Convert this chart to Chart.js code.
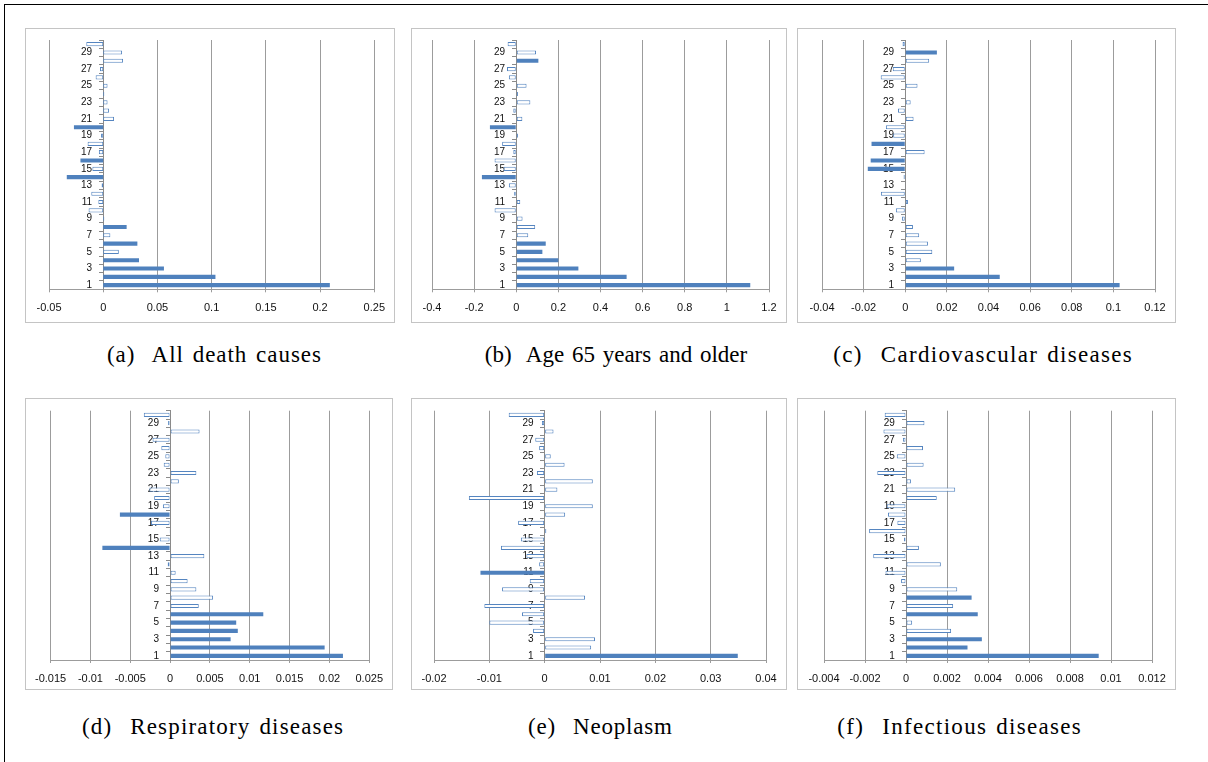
<!DOCTYPE html>
<html><head><meta charset="utf-8">
<script src="https://cdn.jsdelivr.net/npm/chart.js@4.4.0/dist/chart.umd.min.js"></script>
<style>
body{margin:0;background:#fff;width:1208px;height:762px;overflow:hidden;position:relative;font-family:'Liberation Serif',serif}
#frame{position:absolute;left:4px;top:4px;width:1220px;height:780px;border-left:1px solid #000;border-top:1px solid #000}
.box{position:absolute;border:1px solid #c4c4c4;background:#fff}
.box canvas{display:block}
.cap{position:absolute;white-space:pre;font-size:23px;color:#000;line-height:24px;word-spacing:2px}
</style></head><body>
<div id="frame"></div>
<script>
// categories 1..30
const categories = Array.from({length:30},(_,i)=>String(i+1));

// (a) All death causes
const allCauses = [0.209,0.1035,0.056,0.033,0.0144,0.0315,0.0066,0.0216,0.001,-0.0135,
  -0.0045,-0.011,-0.0015,-0.0336,-0.010,-0.021,-0.004,-0.0144,-0.002,-0.027,
  0.010,0.0054,0.004,0.001,0.004,-0.007,-0.003,0.0183,0.0174,-0.0156];
const allCausesFilled = [1,2,3,4,6,8,14,16,20];

// (b) Age 65 years and older
const age65 = [1.111,0.524,0.295,0.20,0.124,0.14,0.057,0.090,0.030,-0.103,
  0.019,-0.01,-0.035,-0.163,-0.06,-0.103,-0.014,-0.067,0.008,-0.125,
  0.029,-0.014,0.067,0.008,0.049,-0.035,-0.044,0.105,0.094,-0.041];
const age65Filled = [1,2,3,4,5,6,14,20,28];

// (c) Cardiovascular diseases
const cardio = [0.103,0.0454,0.0235,0.0075,0.013,0.0109,0.0067,0.0037,-0.0016,-0.0045,
  0.0013,-0.0117,-0.0003,-0.0008,-0.018,-0.0166,0.0093,-0.0162,-0.0058,-0.0093,
  0.004,-0.0035,0.0026,-0.0003,0.0059,-0.0118,-0.006,0.0115,0.0152,-0.0013];
const cardioFilled = [1,2,3,15,16,18,29];

// (d) Respiratory diseases
const resp = [0.0217,0.0194,0.0076,0.0085,0.0083,0.0117,0.0036,0.0054,0.0033,0.0022,
  0.0007,-0.0003,0.0043,-0.0085,-0.0013,-0.0001,-0.0024,-0.0063,-0.0009,-0.002,
  -0.0026,0.0011,0.0033,-0.0008,-0.0006,-0.0011,-0.0022,0.0037,-0.00025,-0.0033];
const respFilled = [1,2,3,4,5,6,14,18];

// (e) Neoplasm
const neo = [0.0349,0.0084,0.0091,-0.0021,-0.01,-0.0041,-0.0109,0.0073,-0.0077,-0.0027,
  -0.0116,-0.001,-0.0033,-0.0079,-0.0043,0.0003,-0.0048,0.0037,0.0087,-0.0137,
  0.0023,0.0087,-0.0014,0.0036,0.0011,-0.001,-0.0017,0.0016,-0.0005,-0.0065];
const neoFilled = [1,11];

// (f) Infectious diseases
const infect = [0.0094,0.003,0.0037,0.0022,0.0003,0.0035,0.0023,0.0032,0.0025,-0.00024,
  -0.001,0.0017,-0.0016,0.00063,-0.0001,-0.0018,-0.00042,-0.00088,-0.00094,0.0015,
  0.0024,0.00024,-0.0014,0.00086,-0.00045,0.00083,-0.00015,-0.0011,0.0009,-0.00104];
const infectFilled = [1,2,3,6,8];

// axis ranges [min, max, step]
const rangeA = [-0.05,0.25,0.05];
const rangeB = [-0.4,1.2,0.2];
const rangeC = [-0.04,0.12,0.02];
const rangeD = [-0.015,0.025,0.005];
const rangeE = [-0.02,0.04,0.01];
const rangeF = [-0.004,0.012,0.002];

const captions = ['(a)  All death causes','(b)  Age 65 years and older','(c)  Cardiovascular diseases',
  '(d)  Respiratory diseases','(e)  Neoplasm','(f)  Infectious diseases'];

// layout (positions/sizes): box [left, top, width, height], caption [centerX, top, targetWidth]
const panels = [
  {data:allCauses, filled:allCausesFilled, range:rangeA, box:[25,28,370,295], pad:{left:23,right:15,top:11,bottom:0}, axisH:32.7, cap:[214,343,214]},
  {data:age65, filled:age65Filled, range:rangeB, box:[411,28,376,295], pad:{left:20,right:17,top:11,bottom:0}, axisH:32.7, cap:[616,343,258]},
  {data:cardio, filled:cardioFilled, range:rangeC, box:[797,28,379,295], pad:{left:24,right:20,top:11,bottom:0}, axisH:32.7, cap:[982.5,343,301]},
  {data:resp, filled:respFilled, range:rangeD, box:[25,398,368,292], pad:{left:23,right:15,top:11.7,bottom:0}, axisH:29, cap:[212.5,715,261]},
  {data:neo, filled:neoFilled, range:rangeE, box:[411,398,376,292], pad:{left:22,right:20,top:11.7,bottom:0}, axisH:29, cap:[600,715,144]},
  {data:infect, filled:infectFilled, range:rangeF, box:[797,398,379,292], pad:{left:26,right:23,top:11.7,bottom:0}, axisH:29, cap:[959,715,294]}
];

const BLUE = '#4f81bd';
const fmt = v => String(parseFloat(Number(v).toFixed(6)));

panels.forEach((p, k) => {
  const div = document.createElement('div');
  div.className = 'box';
  div.style.left = p.box[0]+'px'; div.style.top = p.box[1]+'px';
  div.style.width = (p.box[2]-2)+'px'; div.style.height = (p.box[3]-2)+'px';
  const cv = document.createElement('canvas');
  cv.width = p.box[2]-2; cv.height = p.box[3]-2;
  div.appendChild(cv);
  document.body.appendChild(div);

  const cap = document.createElement('div');
  cap.className = 'cap';
  cap.style.top = p.cap[1]+'px';
  cap.textContent = captions[k];
  document.body.appendChild(cap);
  const w0 = cap.getBoundingClientRect().width;
  const n = captions[k].length - 1;
  const ls = Math.max(0, Math.min((p.cap[2] - w0) / n, 1.3));
  cap.style.letterSpacing = ls + 'px';
  const w1 = cap.getBoundingClientRect().width - ls;
  cap.style.left = (p.cap[0] - w1 / 2) + 'px';

  const isFilled = ctx => p.filled.includes(ctx.dataIndex + 1);
  new Chart(cv, {
    type: 'bar',
    data: {
      labels: categories,
      datasets: [{
        data: p.data,
        backgroundColor: ctx => isFilled(ctx) ? BLUE : '#ffffff',
        borderColor: ctx => isFilled(ctx) ? BLUE : '#5585c0',
        borderWidth: ctx => isFilled(ctx) ? 0 : 1,
        borderSkipped: false,
        barPercentage: 0.5,
        categoryPercentage: 1.0
      }]
    },
    options: {
      indexAxis: 'y',
      responsive: false,
      animation: false,
      devicePixelRatio: 1,
      layout: {padding: p.pad},
      plugins: {legend: {display:false}, tooltip: {enabled:false}},
      scales: {
        x: {
          type: 'linear',
          min: p.range[0], max: p.range[1],
          afterFit: s => { s.height = p.axisH; },
          grid: {color:'#9c9c9c', lineWidth:1, tickLength:3},
          border: {color:'#9c9c9c'},
          ticks: {stepSize: p.range[2], callback: v => fmt(v), color:'#111',
                  font:{family:'Liberation Sans', size:11}, padding:9, maxRotation:0, autoSkip:false}
        },
        y: {
          type: 'category',
          position: {x: 0},
          reverse: true,
          z: 1,
          grid: {drawOnChartArea:false, offset:true, tickLength:4, color:'#8a8a8a'},
          border: {color:'#8a8a8a'},
          ticks: {autoSkip:false, color:'#111', padding:3,
                  font:{family:'Liberation Sans', size:10},
                  callback: function(v, i){ return i % 2 === 0 ? this.getLabelForValue(v) + '    ' : ''; }}
        }
      }
    }
  });
});
</script>
</body></html>
